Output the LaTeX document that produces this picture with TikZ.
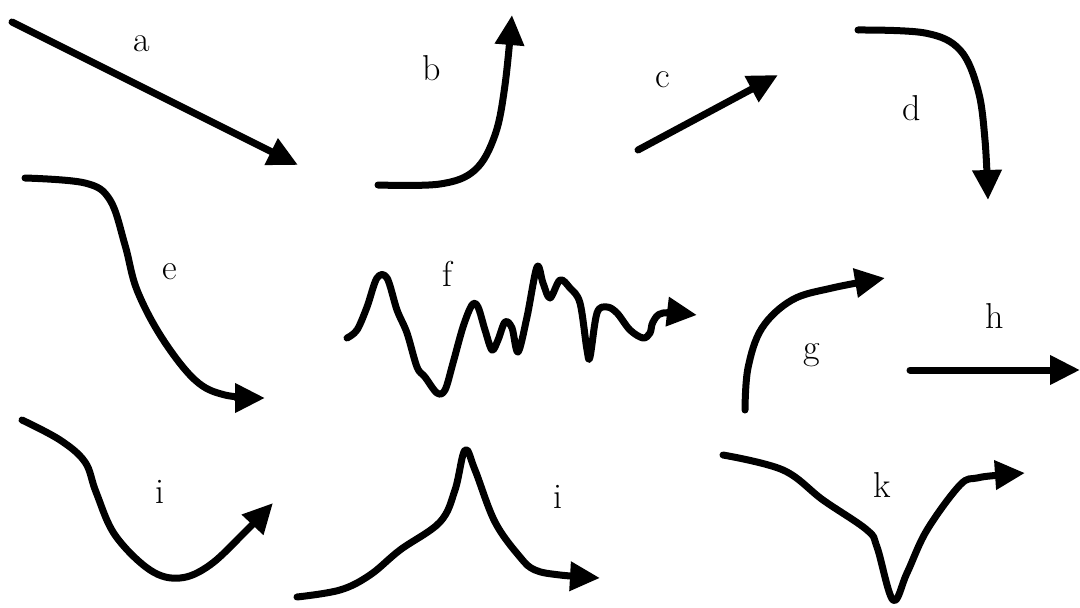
\documentclass[tikz,border=0pt]{standalone}
\usepackage{tikz}
\usetikzlibrary{arrows.meta}

\begin{document}
\begin{tikzpicture}[x=1pt, y=-1pt,
    stroke/.style={line width=7pt, line cap=round, line join=round, -{Triangle[length=30pt, width=28pt]}},
    lbl/.style={font=\fontsize{36}{42}\selectfont, inner sep=0pt}]
    \useasboundingbox[fill=white] (0,0) rectangle (1080,608);

    % straight strokes
    \draw[stroke] (12,22) -- (298,165);
    \draw[stroke] (638,150) -- (778,75);
    \draw[stroke] (910,370) -- (1080,370);

    % curved strokes
    \draw[stroke] plot[smooth, tension=0.6] coordinates {(378,185) (440,184) (475,170) (495,135) (505,85) (512,15)};
    \draw[stroke] plot[smooth, tension=0.6] coordinates {(858,30) (925,33) (960,50) (978,90) (985,140) (988,200)};
    \draw[stroke] plot[smooth, tension=0.6] coordinates {(25,178) (85,183) (110,200) (125,245) (137,290) (162,338) (195,380) (225,395) (265,398)};
    \draw[stroke] plot[smooth, tension=0.55] coordinates {(347,338) (357,330) (367,307) (377,278) (387,278) (397,310) (407,333) (417,367) (425,377) (437,393) (445,390) (453,363) (463,327) (472,305) (478,307) (485,330) (492,350) (498,340) (505,322) (512,328) (518,352) (527,317) (537,267) (543,283) (550,298) (560,280) (570,288) (580,303) (587,350) (590,357) (597,313) (607,307) (617,313) (630,330) (643,338) (650,333) (653,322) (663,313) (697,315)};
    \draw[stroke] plot[smooth, tension=0.6] coordinates {(745,410) (748,368) (762,328) (792,300) (832,288) (885,278)};
    \draw[stroke] plot[smooth, tension=0.6] coordinates {(22,420) (60,440) (85,462) (96,492) (115,535) (150,570) (180,578) (210,565) (245,532) (273,503)};
    \draw[stroke] plot[smooth, tension=0.6] coordinates {(297,597) (340,590) (370,575) (400,550) (440,522) (455,490) (465,450) (475,470) (495,522) (520,557) (535,570) (560,575) (600,578)};
    \draw[stroke] plot[smooth, tension=0.6] coordinates {(723,455) (783,470) (823,500) (867,530) (877,547) (893,600) (907,573) (927,530) (960,485) (977,478) (1000,475) (1025,473)};

    % labels
    \node[lbl] (la) at (142,44) {a};
    \node[lbl] (lb) at (432,68) {b};
    \node[lbl] (lc) at (663,80) {c};
    \node[lbl] (ld) at (912,108) {d};
    \node[lbl] (le) at (170,272) {e};
    \node[lbl] (lf) at (447,274) {f};
    \node[lbl] (lg) at (812,355) {g};
    \node[lbl] (lh) at (995,316) {h};
    \node[lbl] (li) at (160,492) {i};
    \node[lbl] (lj) at (558,497) {i};
    \node[lbl] (lk) at (882,485) {k};
\end{tikzpicture}
\end{document}
